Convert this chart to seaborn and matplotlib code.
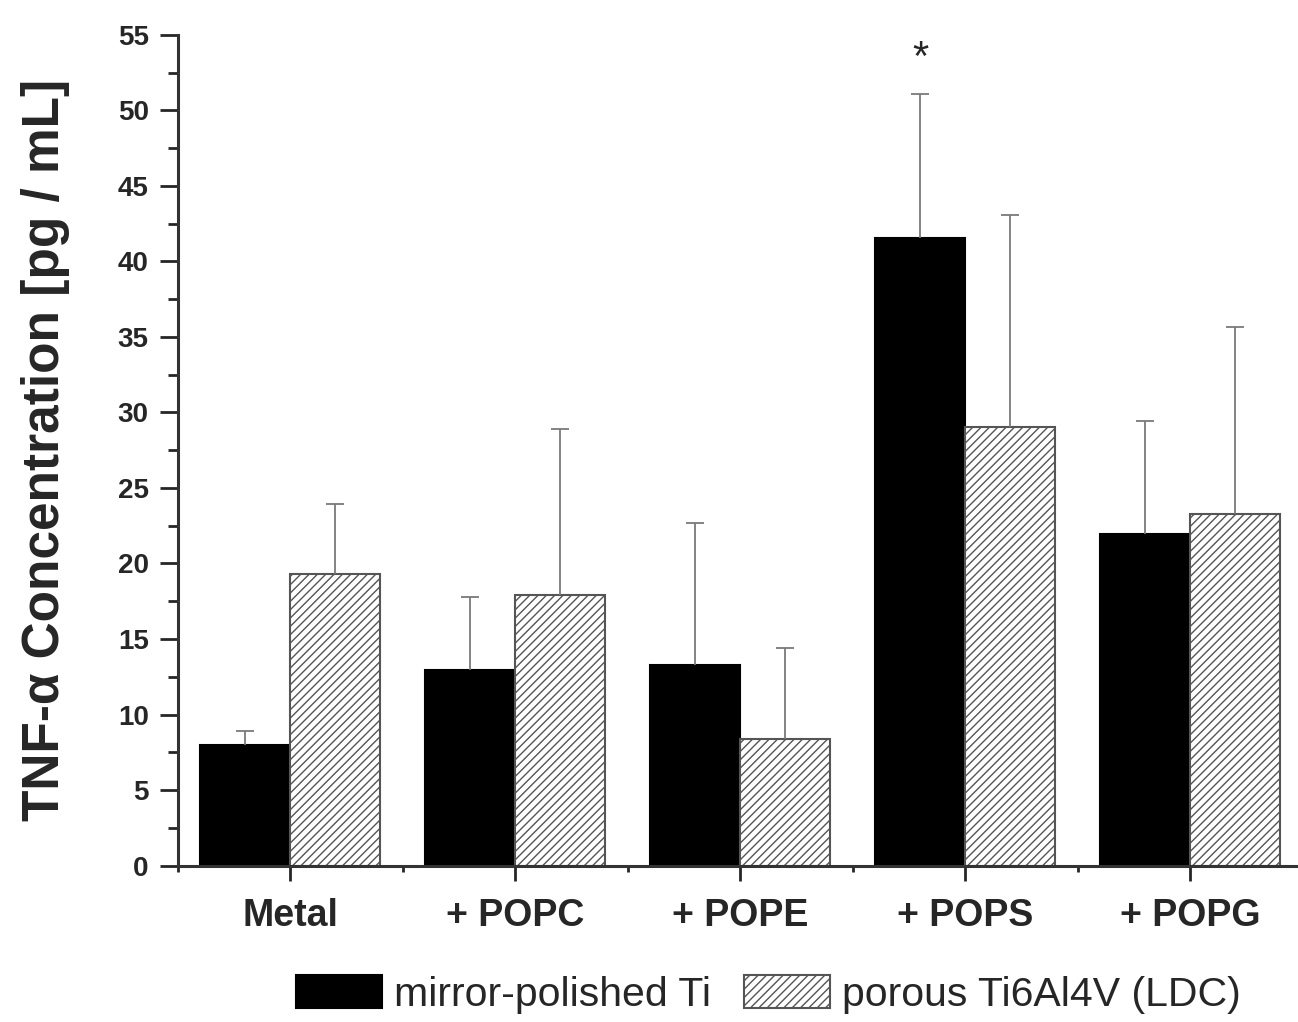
import numpy as np
import pandas as pd
import matplotlib
matplotlib.use("Agg")
import matplotlib.pyplot as plt
from matplotlib.ticker import MultipleLocator, FixedLocator
import seaborn as sns

groups = ["Metal", "+ POPC", "+ POPE", "+ POPS", "+ POPG"]
surfaces = ["mirror-polished Ti", "porous Ti6Al4V (LDC)"]

# mean values
polished_mean = [8.0, 12.95, 13.3, 41.55, 21.95]
porous_mean = [19.3, 17.9, 8.4, 29.05, 23.25]
# top of the (upper-only) error bars
polished_err_top = [8.9, 17.8, 22.7, 51.1, 29.4]
porous_err_top = [23.95, 28.9, 14.4, 43.05, 35.65]

star_group = "+ POPS"
star_value = 53.4


def main():
    df = pd.DataFrame({
        "group": groups * 2,
        "surface": [surfaces[0]] * len(groups) + [surfaces[1]] * len(groups),
        "value": polished_mean + porous_mean,
    })

    sns.set_style("ticks")
    plt.rcParams["font.family"] = ["Liberation Sans", "DejaVu Sans"]
    plt.rcParams["hatch.linewidth"] = 1.0

    fig = plt.figure(figsize=(12.98, 10.22), dpi=100)
    ax = fig.add_axes([0.137, 0.153, 0.863, 0.813])

    sns.barplot(data=df, x="group", y="value", hue="surface",
                palette=["black", "white"], errorbar=None, width=0.8,
                edgecolor="#4a4a4a", linewidth=1.5, legend=False, ax=ax)

    # hatch the porous bars
    for p in ax.containers[1].patches:
        p.set_hatch("////")
        p.set_edgecolor("#555555")
    for p in ax.containers[0].patches:
        p.set_edgecolor("black")

    # upward error bars only (no cap at the bar top)
    tops = [polished_err_top, porous_err_top]
    means = [polished_mean, porous_mean]
    for cont, m, t in zip(ax.containers, means, tops):
        xs = [p.get_x() + p.get_width() / 2 for p in cont.patches]
        ax.vlines(xs, m, t, color="#7a7a7a", linewidth=1.3, zorder=1)
        ax.plot(xs, t, ls="none", marker="_", markersize=13,
                markeredgewidth=1.3, color="#7a7a7a", zorder=1)

    # significance marker above the polished POPS bar
    i = groups.index(star_group)
    p = ax.containers[0].patches[i]
    ax.text(p.get_x() + p.get_width() / 2, star_value, "*", ha="center",
            va="center", fontsize=30)

    ax.set_ylim(0, 55)
    ax.set_xlim(-0.5, 4.48)
    ax.yaxis.set_major_locator(MultipleLocator(5))
    ax.yaxis.set_minor_locator(MultipleLocator(2.5))
    ax.xaxis.set_minor_locator(FixedLocator(np.arange(-0.5, 5, 1)))

    ax.tick_params(axis="y", which="major", length=13, width=2, labelsize=20, pad=8)
    ax.tick_params(axis="y", which="minor", length=7, width=2)
    ax.tick_params(axis="x", which="major", length=11, width=2, labelsize=27, pad=12)
    ax.tick_params(axis="x", which="minor", length=4, width=2)
    for lab in ax.get_xticklabels() + ax.get_yticklabels():
        lab.set_fontweight("bold")

    sns.despine(ax=ax, top=True, right=True)
    ax.spines["left"].set_linewidth(2.2)
    ax.spines["bottom"].set_linewidth(2.2)
    ax.spines["left"].set_color("#333333")
    ax.spines["bottom"].set_color("#333333")

    ax.set_xlabel("")
    ax.set_ylabel("TNF-α Concentration [pg / mL]", fontsize=37,
                  fontweight="bold", labelpad=34)

    fig.legend(ax.containers, surfaces, loc="lower center",
               bbox_to_anchor=(0.592, -0.028), ncol=2, frameon=False,
               fontsize=29.5, handlelength=2.1, handleheight=0.85,
               columnspacing=0.8, handletextpad=0.3)

    fig.savefig("out.png", dpi=100)


if __name__ == "__main__":
    main()
